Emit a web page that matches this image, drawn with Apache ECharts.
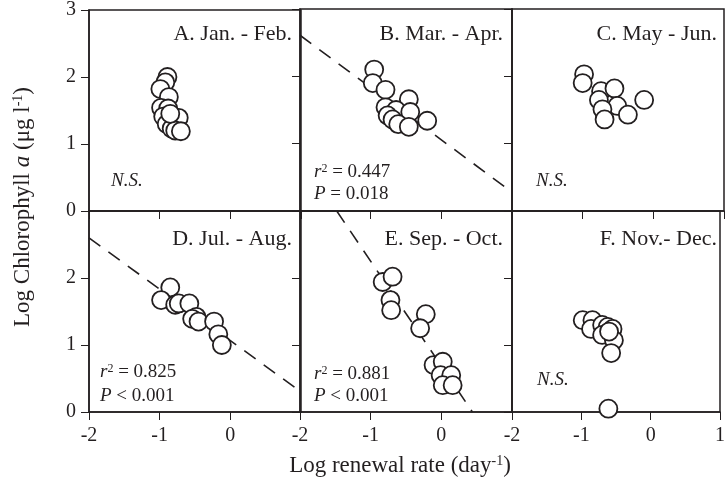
<!DOCTYPE html>
<html>
<head>
<meta charset="utf-8">
<script src="https://cdn.jsdelivr.net/npm/echarts@6/dist/echarts.min.js"></script>
<style>
  html, body { margin: 0; padding: 0; background: #fff; }
  #chart { width: 728px; height: 493px; }
</style>
</head>
<body>
<div id="chart"></div>
<script>
// panel titles
var panelTitles = ['A. Jan. - Feb.', 'B. Mar. - Apr.', 'C. May - Jun.',
                   'D. Jul. - Aug.', 'E. Sep. - Oct.', 'F. Nov.- Dec.']

// [log renewal rate, log chl a]
var dataA = [[-0.89, 2.00], [-0.92, 1.92], [-0.99, 1.82], [-0.87, 1.70], [-0.98, 1.54],
             [-0.88, 1.53], [-0.73, 1.39], [-0.95, 1.41], [-0.90, 1.30], [-0.83, 1.23],
             [-0.78, 1.20], [-0.70, 1.19], [-0.85, 1.45]]
var dataB = [[-0.95, 2.10], [-0.97, 1.90], [-0.79, 1.80], [-0.46, 1.66], [-0.79, 1.54],
             [-0.64, 1.50], [-0.44, 1.47], [-0.76, 1.42], [-0.69, 1.36], [-0.61, 1.29],
             [-0.46, 1.25], [-0.20, 1.34]]
var dataC = [[-0.98, 2.03], [-1.00, 1.90], [-0.74, 1.78], [-0.55, 1.82], [-0.77, 1.65],
             [-0.51, 1.56], [-0.13, 1.65], [-0.72, 1.51], [-0.36, 1.43], [-0.69, 1.36]]
var dataD = [[-0.85, 1.86], [-0.98, 1.67], [-0.78, 1.60], [-0.73, 1.62], [-0.58, 1.62],
             [-0.48, 1.42], [-0.54, 1.39], [-0.45, 1.35], [-0.23, 1.35], [-0.17, 1.16],
             [-0.12, 1.00]]
var dataE = [[-0.83, 1.94], [-0.69, 2.02], [-0.72, 1.67], [-0.71, 1.52], [-0.22, 1.46],
             [-0.30, 1.25], [-0.11, 0.70], [0.02, 0.75], [-0.01, 0.55], [0.14, 0.55],
             [0.02, 0.40], [0.16, 0.40]]
var dataF = [[-0.98, 1.37], [-0.84, 1.37], [-0.86, 1.24], [-0.70, 1.30], [-0.62, 1.27],
             [-0.55, 1.24], [-0.70, 1.15], [-0.53, 1.07], [-0.57, 0.88], [-0.60, 1.20],
             [-0.61, 0.05]]

// regression lines (end points)
var fitB = [[-2, 2.61], [1, 0.28]]
var fitD = [[-2, 2.60], [1, 0.30]]
var fitE = [[-1.48, 3.0], [0.44, 0.0]]

var xTicks = [-2, -1, 0, 1]
var yTicks = [0, 1, 2, 3]

var allData = [dataA, dataB, dataC, dataD, dataE, dataF]
var fits = [null, fitB, null, fitD, fitE, null]

var ink = '#231f20'
var serif = '"Liberation Serif", "Times New Roman", serif'

var lefts = [89, 300, 512]
var tops = [9, 211]

var grids = [], xAxes = [], yAxes = [], series = []
for (var i = 0; i < 6; i++) {
  var col = i % 3, row = Math.floor(i / 3)
  grids.push({
    left: lefts[col], top: tops[row], width: 212, height: row === 0 ? 202 : 201,
    show: true, borderColor: ink, borderWidth: 1.5, backgroundColor: 'transparent'
  })
  xAxes.push({
    gridIndex: i, type: 'value', min: xTicks[0], max: xTicks[3], interval: 1,
    axisLine: { show: true, onZero: false, lineStyle: { color: ink, width: 1.5 } },
    axisTick: { show: true, length: 8, lineStyle: { color: ink, width: 1 } },
    axisLabel: {
      show: row === 1, color: ink, fontFamily: serif, fontSize: 20, margin: 14,
      showMaxLabel: col === 2, showMinLabel: true
    },
    splitLine: { show: false }
  })
  yAxes.push({
    gridIndex: i, type: 'value', min: yTicks[0], max: yTicks[3], interval: 1,
    axisLine: { show: true, onZero: false, lineStyle: { color: ink, width: 1.5 } },
    axisTick: { show: true, length: 8, lineStyle: { color: ink, width: 1 } },
    axisLabel: {
      show: col === 0, color: ink, fontFamily: serif, fontSize: 20, margin: 13,
      showMaxLabel: row === 0
    },
    splitLine: { show: false }
  })
  if (fits[i]) {
    series.push({
      type: 'line', xAxisIndex: i, yAxisIndex: i, data: fits[i],
      symbol: 'none', silent: true, z: 2,
      lineStyle: { color: ink, width: 1.6, type: [14, 10] }
    })
  }
  series.push({
    type: 'scatter', xAxisIndex: i, yAxisIndex: i, data: allData[i],
    symbol: 'circle', symbolSize: 18, z: 3,
    itemStyle: { color: '#fff', borderColor: ink, borderWidth: 1.8, opacity: 1 }
  })
}

function richSet(size) {
  return {
    i: { fontStyle: 'italic', fontSize: size, fontFamily: serif, fill: ink },
    n: { fontSize: size, fontFamily: serif, fill: ink },
    sup: { fontSize: Math.round(size * 0.62), fontFamily: serif, fill: ink, verticalAlign: 'top' }
  }
}

var graphics = []
var titleRight = [292, 503, 717]
var titleY = [34, 239]
for (var k = 0; k < 6; k++) {
  graphics.push({
    type: 'text', x: titleRight[k % 3], y: titleY[Math.floor(k / 3)],
    style: { text: panelTitles[k], fill: ink, font: '22px ' + serif,
             textAlign: 'right', textVerticalAlign: 'middle' }
  })
}

function note(x, y, txt) {
  graphics.push({
    type: 'text', x: x, y: y,
    style: { text: txt, fill: ink, font: '19px ' + serif, textVerticalAlign: 'middle',
             rich: richSet(19) }
  })
}
note(111, 181, '{i|N.S.}')
note(536, 181, '{i|N.S.}')
note(537, 380, '{i|N.S.}')
note(314, 172, '{i|r}{sup|2}{n| = 0.447}')
note(314, 194, '{i|P}{n| = 0.018}')
note(100, 372, '{i|r}{sup|2}{n| = 0.825}')
note(100, 396, '{i|P}{n| < 0.001}')
note(314, 374, '{i|r}{sup|2}{n| = 0.881}')
note(314, 396, '{i|P}{n| < 0.001}')

// axis titles
graphics.push({
  type: 'text', x: 400, y: 466,
  style: { text: '{n|Log renewal rate (day}{sup|-1}{n|)}', fill: ink, font: '23px ' + serif,
           textAlign: 'center', textVerticalAlign: 'middle', rich: richSet(23) }
})
graphics.push({
  type: 'text', x: 23, y: 207, rotation: Math.PI / 2,
  style: { text: '{n|Log Chlorophyll }{i|a}{n| (μg l}{sup|-1}{n|)}', fill: ink, font: '23px ' + serif,
           textAlign: 'center', textVerticalAlign: 'middle', rich: richSet(23) }
})

var chart = echarts.init(document.getElementById('chart'), null, { renderer: 'canvas' })
chart.setOption({
  animation: false,
  backgroundColor: '#fff',
  grid: grids,
  xAxis: xAxes,
  yAxis: yAxes,
  series: series,
  graphic: graphics
})
</script>
</body>
</html>
